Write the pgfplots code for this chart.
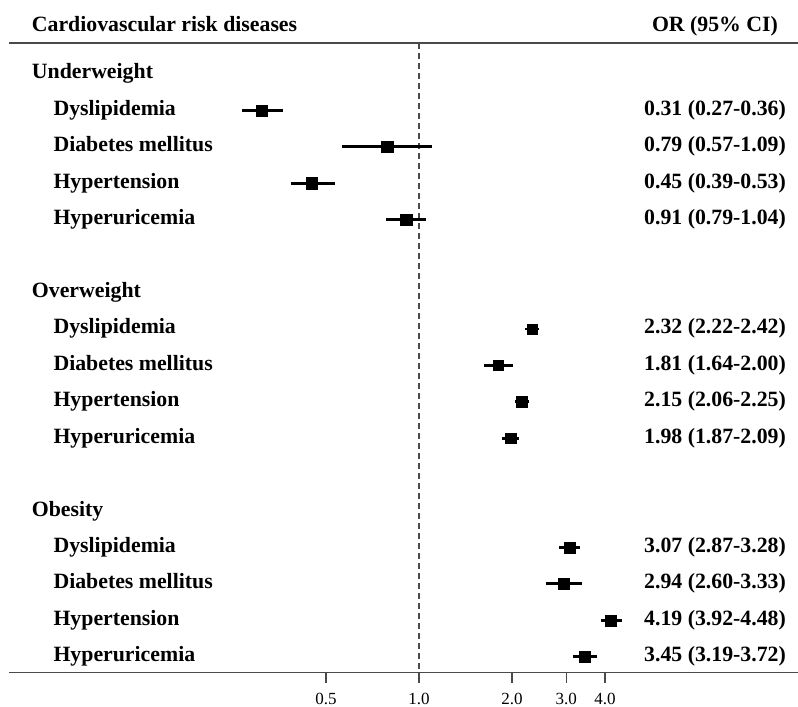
\documentclass[border=0pt]{standalone}
\usepackage{fontspec}
\setmainfont{Liberation Serif}
\usepackage{pgfplots}
\usepackage{pgfplotstable}
\pgfplotsset{compat=1.18}

% odds ratios with 95% CI, one table per BMI group; row = position from top
\pgfplotstableread{
row   or    lo    hi
-1    0.31  0.27  0.36
-2    0.79  0.57  1.09
-3    0.45  0.39  0.53
-4    0.91  0.79  1.04
}\underweight
\pgfplotstableread{
row   or    lo    hi
-7    2.32  2.22  2.42
-8    1.81  1.64  2.00
-9    2.15  2.06  2.25
-10   1.98  1.87  2.09
}\overweight
\pgfplotstableread{
row   or    lo    hi
-13   3.07  2.87  3.28
-14   2.94  2.60  3.33
-15   4.19  3.92  4.48
-16   3.45  3.19  3.72
}\obesity

\definecolor{axgray}{HTML}{4A4A4A}
\newcommand{\bigfont}{\fontsize{21.8bp}{26bp}\selectfont\bfseries}

% label in the left column, value in the right column
\newcommand{\grp}[2]{\node[txt] at ({rel axis cs:0.0288,0}|-{axis cs:1,#1}) {#2};}
\newcommand{\itm}[3]{%
  \node[txt] at ({rel axis cs:0.0562,0}|-{axis cs:1,#1}) {#2};
  \node[val] at ({rel axis cs:0.8948,0}|-{axis cs:1,#1}) {#3};}

\pgfplotsset{
  ci/.style={only marks, mark=square*, black,
    mark options={line width=0.4bp},
    error bars/x dir=both, error bars/x explicit, error bars/error mark=none,
    error bars/error bar style={line width=2.8bp, line cap=rect, black}},
}

\begin{document}
\begin{tikzpicture}[
  txt/.style={anchor=base west, yshift=-5bp, inner sep=0pt, font=\bigfont},
  val/.style={anchor=base, yshift=-5bp, inner sep=0pt, font=\bigfont}]
\begin{axis}[
  name=ax,
  scale only axis,
  width=789bp, height=629.7bp,
  xmode=log, log basis x=2,
  xmin=0.0471, xmax=16.86,
  ymin=-16.439, ymax=0.851,
  separate axis lines,
  y axis line style={draw=none},
  x axis line style={axgray, line width=1.3bp},
  ytick=\empty,
  xtick={0.5,1,2,3,4},
  xticklabels={0.5,1.0,2.0,3.0,4.0},
  minor xtick={},
  xtick pos=left,
  tick align=outside,
  major tick length=10bp,
  every tick/.style={axgray, line width=1.2bp},
  xticklabel style={font=\fontsize{17bp}{20bp}\selectfont, yshift=-7bp},
  clip=false,
]
\addplot[axgray, line width=1.2bp, dash pattern=on 6bp off 4bp] coordinates {(1,0.851) (1,-16.439)};

% tick marks below the axis line
\pgfplotsinvokeforeach{0.5,1,2,3,4}{
  \draw[axgray, line width=1.2bp] (axis cs:#1,-16.439) -- ++(0pt,-10bp);
}

\addplot[ci, mark size=5.7bp] table[x=or, y=row,
  x error plus expr=\thisrow{hi}-\thisrow{or},
  x error minus expr=\thisrow{or}-\thisrow{lo}] {\underweight};
\addplot[ci, mark size=5.1bp] table[x=or, y=row,
  x error plus expr=\thisrow{hi}-\thisrow{or},
  x error minus expr=\thisrow{or}-\thisrow{lo}] {\overweight};
\addplot[ci, mark size=5.5bp] table[x=or, y=row,
  x error plus expr=\thisrow{hi}-\thisrow{or},
  x error minus expr=\thisrow{or}-\thisrow{lo}] {\obesity};

\node[anchor=base west, inner sep=0pt, font=\bigfont] at (rel axis cs:0.0288,1.01747) {Cardiovascular risk diseases};
\node[anchor=base, inner sep=0pt, font=\bigfont] at (rel axis cs:0.8948,1.01747) {OR (95\% CI)};

\grp{0}{Underweight}
\itm{-1}{Dyslipidemia}{0.31 (0.27-0.36)}
\itm{-2}{Diabetes mellitus}{0.79 (0.57-1.09)}
\itm{-3}{Hypertension}{0.45 (0.39-0.53)}
\itm{-4}{Hyperuricemia}{0.91 (0.79-1.04)}
\grp{-6}{Overweight}
\itm{-7}{Dyslipidemia}{2.32 (2.22-2.42)}
\itm{-8}{Diabetes mellitus}{1.81 (1.64-2.00)}
\itm{-9}{Hypertension}{2.15 (2.06-2.25)}
\itm{-10}{Hyperuricemia}{1.98 (1.87-2.09)}
\grp{-12}{Obesity}
\itm{-13}{Dyslipidemia}{3.07 (2.87-3.28)}
\itm{-14}{Diabetes mellitus}{2.94 (2.60-3.33)}
\itm{-15}{Hypertension}{4.19 (3.92-4.48)}
\itm{-16}{Hyperuricemia}{3.45 (3.19-3.72)}
\end{axis}
\pgfresetboundingbox
\path[use as bounding box] ([shift={(-9bp,-34.3bp)}]ax.south west) rectangle ([shift={(0bp,43bp)}]ax.north east);
\end{tikzpicture}
\end{document}
